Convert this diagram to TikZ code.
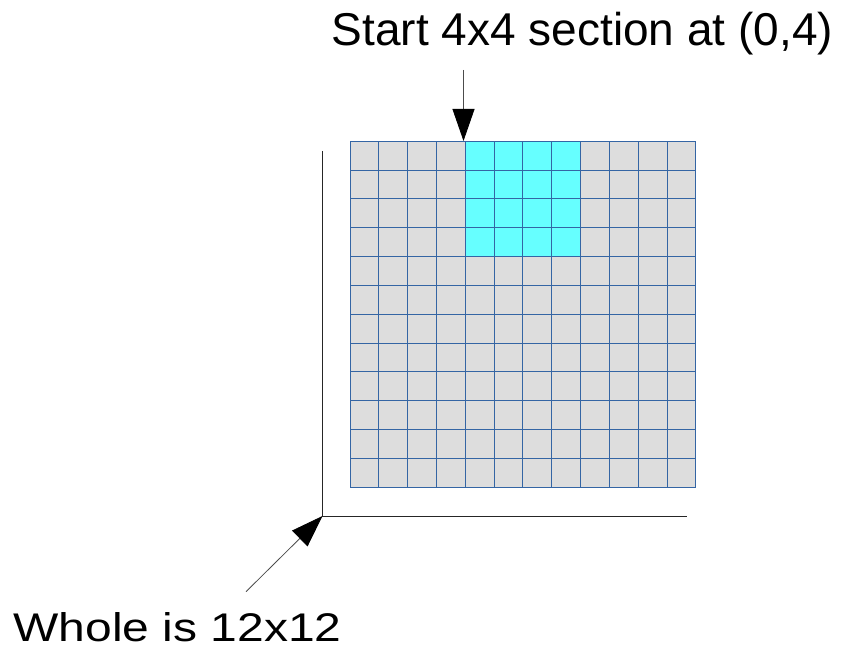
\documentclass[tikz,border=0pt]{standalone}
\usepackage{fontspec}
\setmainfont{Liberation Sans}
\usepackage{graphicx}
\usetikzlibrary{arrows.meta}
\definecolor{cellgray}{HTML}{DDDDDD}
\definecolor{cellcyan}{HTML}{66FFFF}
\definecolor{gridblue}{HTML}{3465A4}

\begin{document}
\begin{tikzpicture}[x=1pt,y=1pt,>={Triangle[length=32pt,width=22pt,color=black]},
  lbl/.style={inner sep=0pt,anchor=base}]
\useasboundingbox (0,0) rectangle (856,649);
% grid of 12x12 cells, the 4x4 section in cyan
\def\cw{28.83}
\fill[cellgray] (350,161.7) rectangle ++(12*\cw,12*\cw);
\fill[cellcyan] (350+4*\cw,161.7+8*\cw) rectangle ++(4*\cw,4*\cw);
\foreach \i in {0,...,12}{
  \draw[gridblue,line width=1pt] (350+\i*\cw,161.7) -- ++(0,12*\cw);
  \draw[gridblue,line width=1pt] (350,161.7+\i*\cw) -- ++(12*\cw,0);
}
% axes
\coordinate (corner) at (322.5,133);
\draw[black!85,line width=1pt] (322.5,498) -- (corner) -- (687,133);
% labels and arrows
\node[lbl,font=\fontsize{46}{54}\selectfont] (startlbl) at (582.5,603) {Start 4x4 section at (0,4)};
\node[lbl,font=\fontsize{40}{48}\selectfont] (wholelbl) at (177.5,7.3) {\scalebox{1.2}[1]{Whole is 12x12}};
\coordinate (arrtop) at (463.5,579);
\coordinate (secstart) at (463.5,508);
\coordinate (arrlow) at (246,57.3);
\draw[->,black!70,line width=0.8pt] (arrtop) -- (secstart);
\draw[->,black!70,line width=0.8pt] (arrlow) -- (corner);
\end{tikzpicture}
\end{document}
